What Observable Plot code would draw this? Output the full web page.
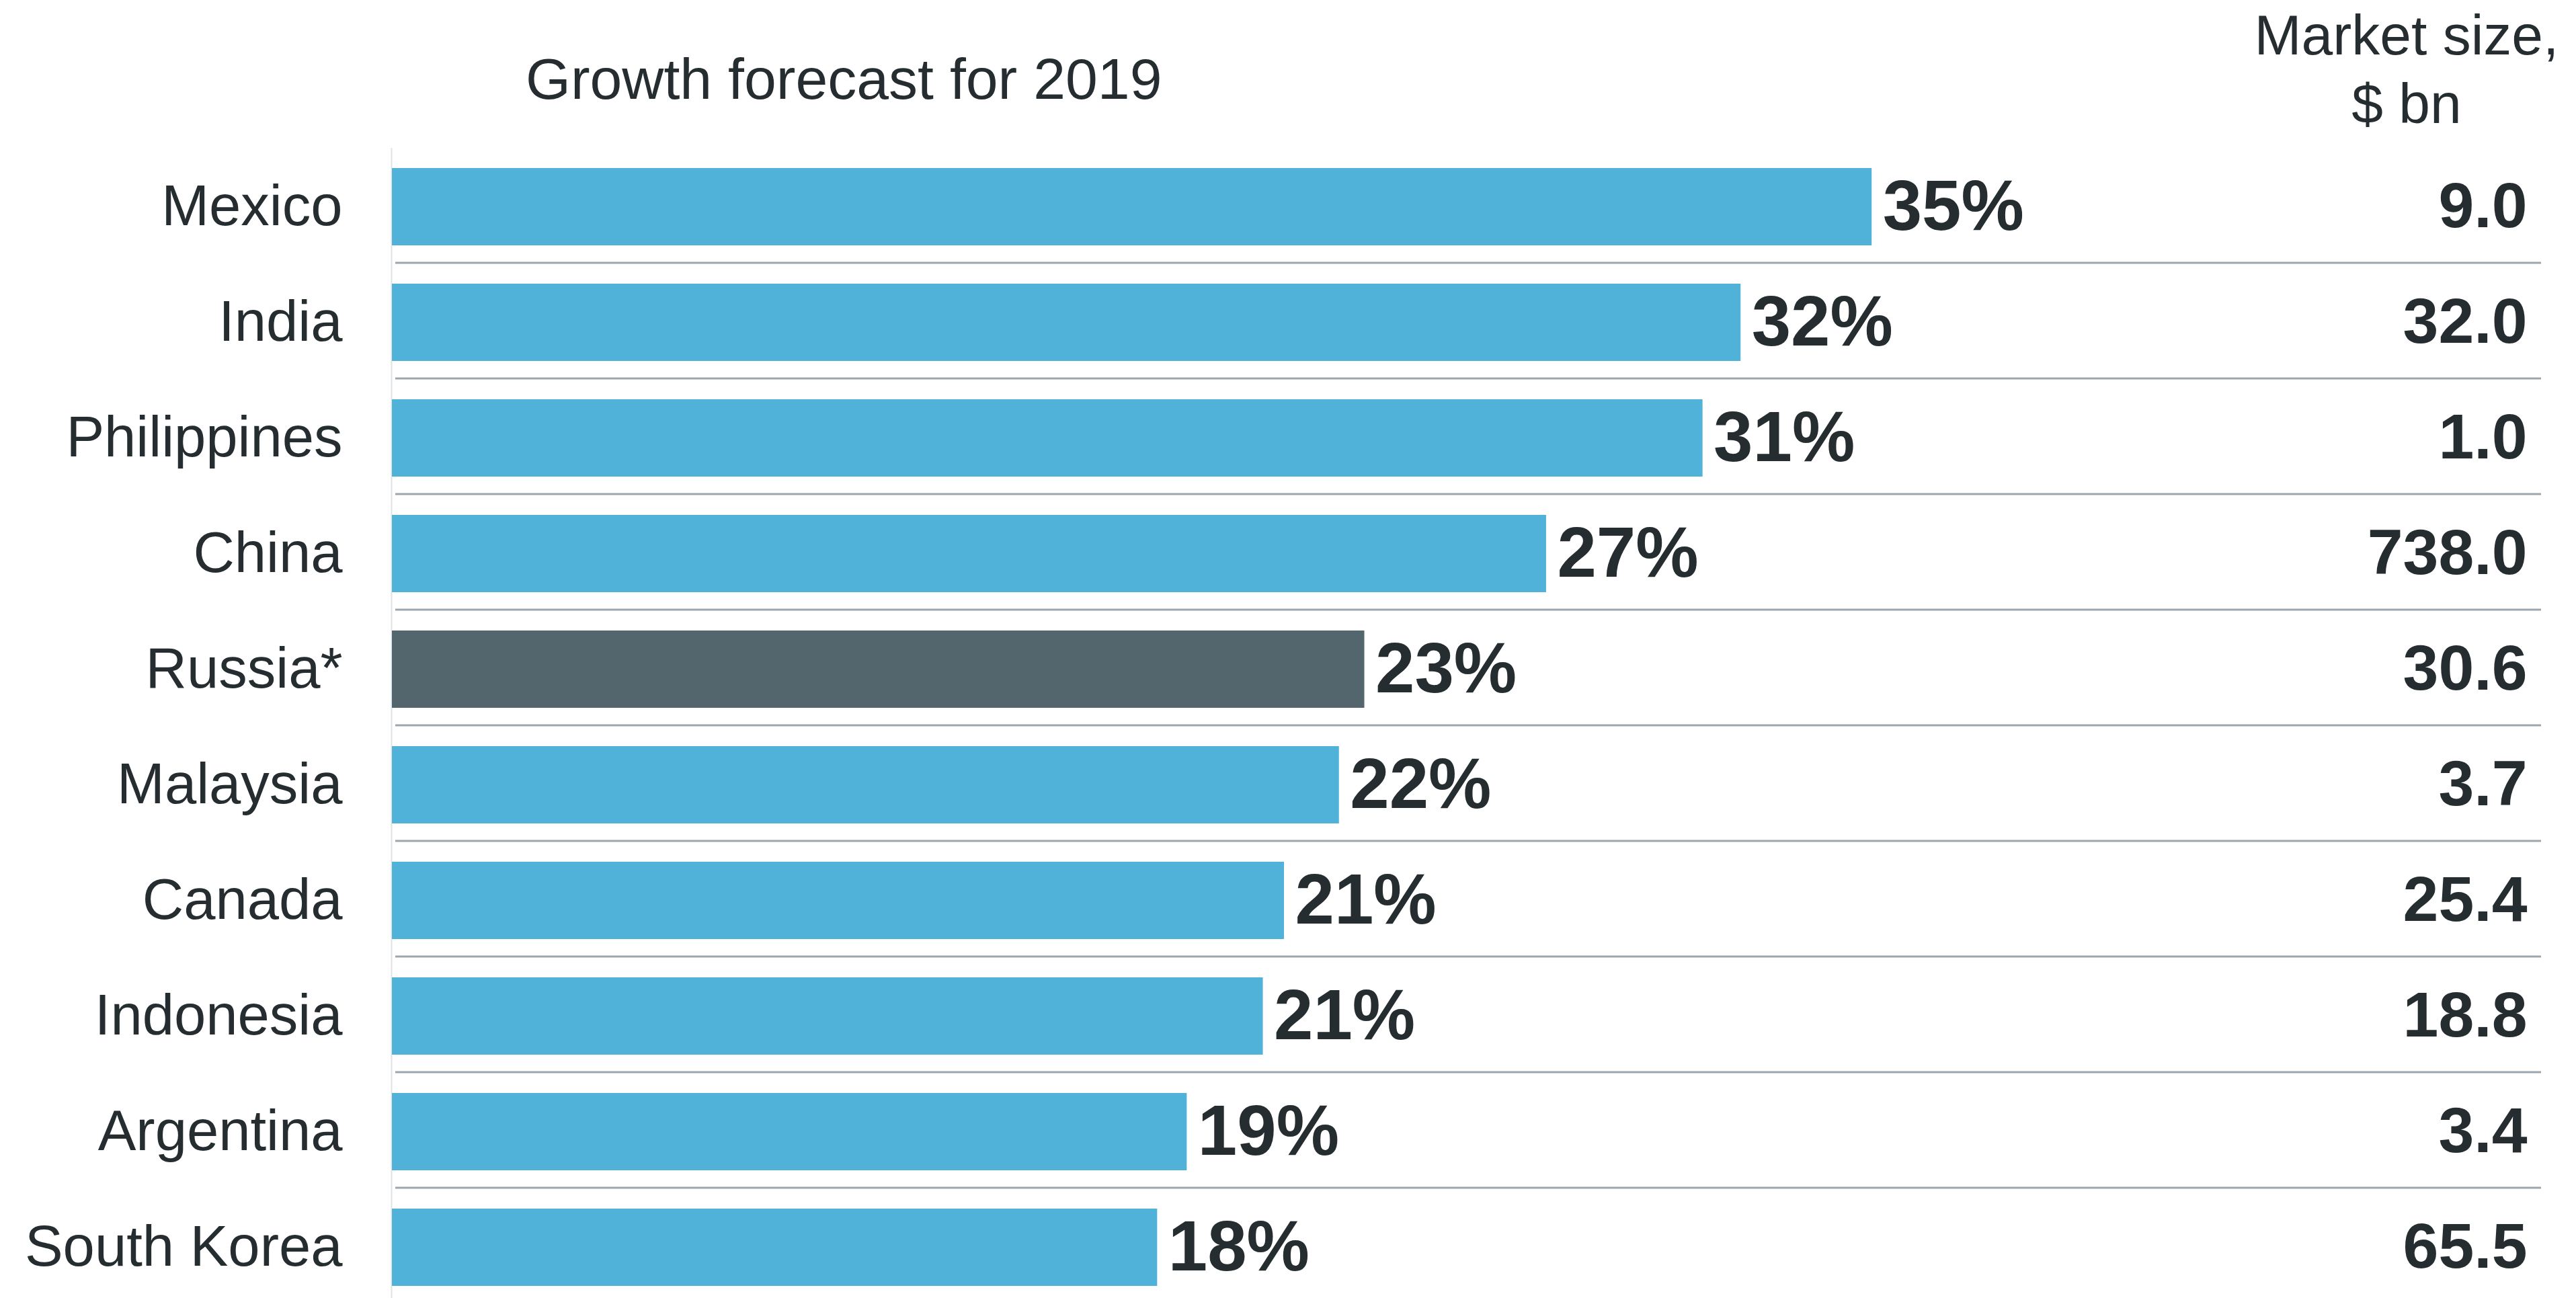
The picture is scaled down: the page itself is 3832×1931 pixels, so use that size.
<!DOCTYPE html>
<html><head><meta charset="utf-8">
<script src="https://cdn.jsdelivr.net/npm/d3@7"></script>
<script src="https://cdn.jsdelivr.net/npm/@observablehq/plot@0.6"></script>
<style>
html,body{margin:0;padding:0;background:#fff;}
body{width:3832px;height:1931px;overflow:hidden;font-family:"Liberation Sans",Arial,sans-serif;color:#262d31;}
#header{position:relative;height:200px;width:3832px;}
#header span{position:absolute;white-space:nowrap;line-height:1;}
#title{left:782px;top:74px;font-size:86px;}
#mk1{left:3580px;top:10px;font-size:84px;transform:translateX(-50%);}
#mk2{left:3580px;top:112px;font-size:84px;transform:translateX(-50%);}
</style></head><body>
<div id="header">
  <span id="title">Growth forecast for 2019</span>
  <span id="mk1">Market size,</span>
  <span id="mk2">$ bn</span>
</div>
<div id="chart"></div>
<script>
const countries = ["Mexico","India","Philippines","China","Russia*","Malaysia","Canada","Indonesia","Argentina","South Korea"];
const growth = [35, 31.9, 31.0, 27.3, 23.0, 22.4, 21.1, 20.6, 18.8, 18.1];
const growthLabels = ["35%","32%","31%","27%","23%","22%","21%","21%","19%","18%"];
const marketSize = ["9.0","32.0","1.0","738.0","30.6","3.7","25.4","18.8","3.4","65.5"];
const highlighted = "Russia*";

const data = countries.map((c, i) => ({country: c, growth: growth[i], label: growthLabels[i], market: marketSize[i]}));

const chart = Plot.plot({
  width: 3832,
  height: 1731,
  marginTop: 20,
  marginBottom: 0,
  marginLeft: 583,
  marginRight: 73,
  style: {fontFamily: '"Liberation Sans", Arial, sans-serif', color: "#262d31", background: "#fff"},
  x: {domain: [0, 50.5], axis: null},
  y: {domain: countries, paddingInner: 0.332, paddingOuter: 0.137, align: 0.62, axis: null},
  color: {type: "identity"},
  marks: [
    Plot.ruleX([0], {stroke: "#dfe3e6", strokeWidth: 2, dx: -1}),
    Plot.ruleY(countries.slice(0, -1), {y: d => d, stroke: "#9ba7b0", strokeWidth: 3, dy: 83, insetLeft: 5, insetRight: -21}),
    Plot.barX(data, {x: "growth", y: "country", fill: d => d.country === highlighted ? "#53656d" : "#51b2d9"}),
    Plot.text(data, {x: "growth", y: "country", text: "label", textAnchor: "start", dx: 16, fontSize: 105, fontWeight: "bold", fill: "#262d31"}),
    Plot.text(data, {y: "country", text: "market", frameAnchor: "right", textAnchor: "end", fontSize: 95, fontWeight: "bold", fill: "#262d31"}),
    Plot.axisY({tickSize: 0, tickPadding: 74, fontSize: 85, label: null, fill: "#262d31"})
  ]
});
document.getElementById("chart").appendChild(chart);
</script>
</body></html>
